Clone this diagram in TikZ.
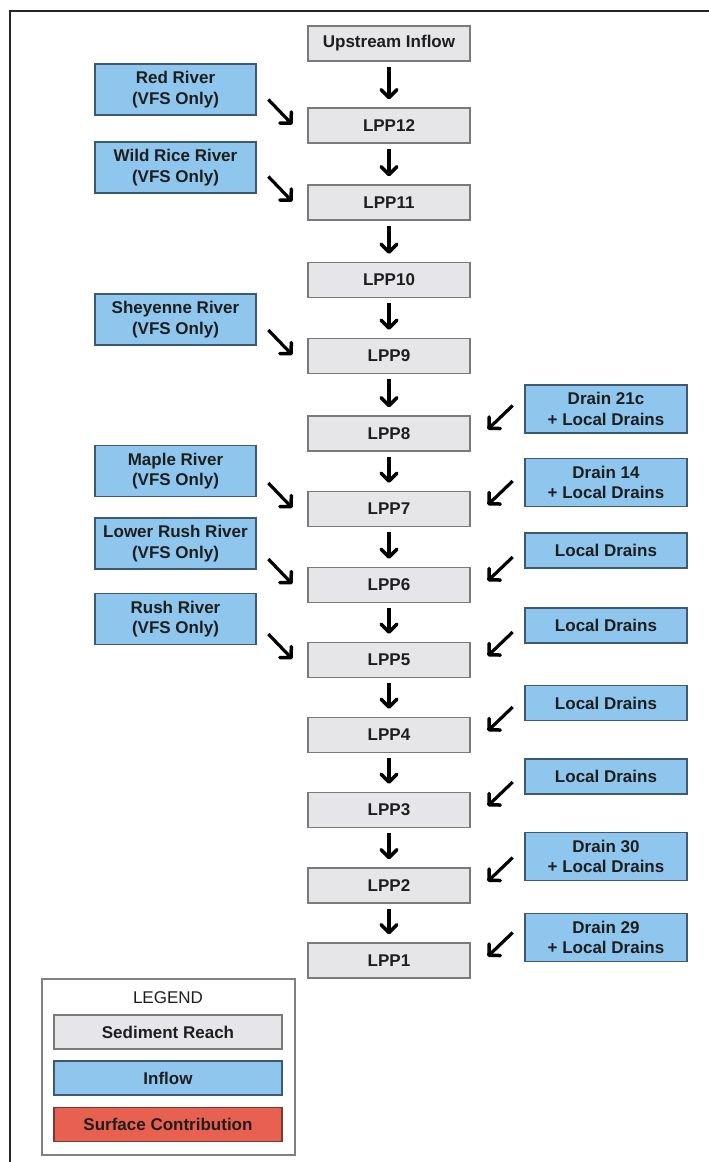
\documentclass[tikz,border=0pt]{standalone}
\usepackage{fontspec}
\setmainfont{Liberation Sans}
\usetikzlibrary{arrows.meta,calc}
\definecolor{reachfill}{HTML}{E6E6E8}
\definecolor{reachdraw}{HTML}{7A7A7A}
\definecolor{inflowfill}{HTML}{8EC6EE}
\definecolor{inflowdraw}{HTML}{3E5A72}
\definecolor{surffill}{HTML}{E8604F}
\definecolor{surfdraw}{HTML}{7A3A30}
\definecolor{txt}{HTML}{1E1E1E}
\begin{document}
\begin{tikzpicture}[x=1pt,y=-1pt,
  every node/.style={font=\fontsize{17}{20.5}\selectfont\bfseries, text=txt, inner sep=0pt, align=center},
  reach/.style={rectangle, fill=reachfill, draw=reachdraw, line width=1.4pt, minimum width=162pt, minimum height=35pt},
  inflowL/.style={rectangle, fill=inflowfill, draw=inflowdraw, line width=1.4pt, minimum width=161pt, minimum height=51pt},
  inflowR/.style={rectangle, fill=inflowfill, draw=inflowdraw, line width=1.4pt, minimum width=162pt, minimum height=48pt},
  inflowRs/.style={inflowR, minimum height=35pt},
  legitem/.style={rectangle, line width=1.4pt, minimum width=228pt, minimum height=34pt},
  flow/.style={line width=3.2pt, black, line cap=butt, -{Straight Barb[length=8pt,width=16pt,line width=3.5pt,round]}},
  down/.style={flow, shorten <=5pt, shorten >=8pt}
]
\useasboundingbox (0,0) rectangle (709,1162);
% outer frame (top and left only)
\draw[line width=2.5pt, black!85] (709,11) -- (10,11) -- (10,1162);

% sediment reaches
\node[reach] (up)  at (389,43.5)  {Upstream Inflow};
\node[reach] (p12) at (389,125.5) {LPP12};
\node[reach] (p11) at (389,202.5) {LPP11};
\node[reach] (p10) at (389,280)   {LPP10};
\node[reach] (p9)  at (389,356)   {LPP9};
\node[reach] (p8)  at (389,433.5) {LPP8};
\node[reach] (p7)  at (389,509)   {LPP7};
\node[reach] (p6)  at (389,585)   {LPP6};
\node[reach] (p5)  at (389,660)   {LPP5};
\node[reach] (p4)  at (389,735)   {LPP4};
\node[reach] (p3)  at (389,810)   {LPP3};
\node[reach] (p2)  at (389,885.5) {LPP2};
\node[reach] (p1)  at (389,960.5) {LPP1};

% left inflows
\node[inflowL] (red)   at (175.5,89.5)  {Red River\\(VFS Only)};
\node[inflowL] (wild)  at (175.5,167.5) {Wild Rice River\\(VFS Only)};
\node[inflowL] (shey)  at (175.5,319.5) {Sheyenne River\\(VFS Only)};
\node[inflowL] (maple) at (175.5,471)   {Maple River\\(VFS Only)};
\node[inflowL] (lrush) at (175.5,543.5) {Lower Rush River\\(VFS Only)};
\node[inflowL] (rush)  at (175.5,619)   {Rush River\\(VFS Only)};

% right inflows
\node[inflowR]  (d21) at (606,409)   {Drain 21c\\+ Local Drains};
\node[inflowR]  (d14) at (606,482.5) {Drain 14\\+ Local Drains};
\node[inflowRs] (ld6) at (606,550.5) {Local Drains};
\node[inflowRs] (ld5) at (606,625.5) {Local Drains};
\node[inflowRs] (ld4) at (606,703)   {Local Drains};
\node[inflowRs] (ld3) at (606,776.5) {Local Drains};
\node[inflowR]  (d30) at (606,856.5) {Drain 30\\+ Local Drains};
\node[inflowR]  (d29) at (606,937.5) {Drain 29\\+ Local Drains};

% main chain arrows
\foreach \a/\b in {up/p12,p12/p11,p11/p10,p10/p9,p9/p8,p8/p7,p7/p6,p6/p5,p5/p4,p4/p3,p3/p2,p2/p1}
  \draw[down] (\a.south) -- (\b.north);

% left diagonal arrows
\foreach \s/\t in {red/p12,wild/p11,shey/p9,maple/p7,lrush/p6,rush/p5}
  \draw[flow] ($(\t.west)+(-39,-26)$) -- ($(\t.west)+(-15,-1)$);

% right diagonal arrows
\foreach \s/\t in {d21/p8,d14/p7,ld6/p6,ld5/p5,ld4/p4,ld3/p3,d30/p2,d29/p1}
  \draw[flow] ($(\t.east)+(42,-28)$) -- ($(\t.east)+(17,-4)$);

% legend
\node[rectangle, draw=black!50, line width=1.2pt, fill=white, minimum width=253pt, minimum height=176pt] (leg) at (168.5,1067) {};
\node[font=\fontsize{17}{20.5}\selectfont] (legt) at (168,997.5) {LEGEND};
\node[legitem, fill=reachfill, draw=reachdraw] (lsed) at (168,1032) {Sediment Reach};
\node[legitem, fill=inflowfill, draw=inflowdraw] (linf) at (168,1078) {Inflow};
\node[legitem, fill=surffill, draw=surfdraw] (lsur) at (168,1124.5) {Surface Contribution};
\end{tikzpicture}
\end{document}
